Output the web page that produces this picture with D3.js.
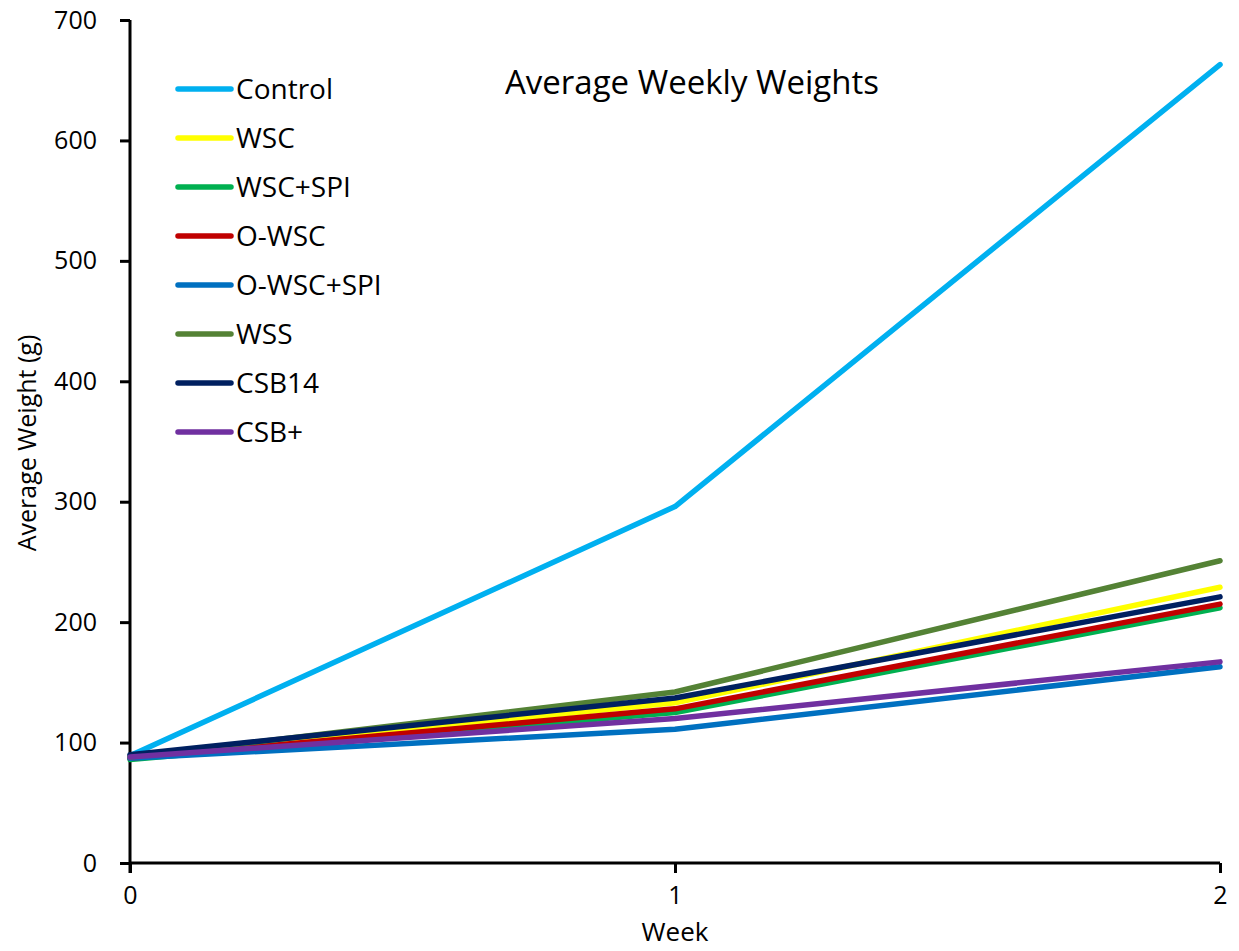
<!DOCTYPE html>
<html><head><meta charset="utf-8">
<script src="https://cdn.jsdelivr.net/npm/d3@7"></script>
<style>body{margin:0;background:#fff}svg{display:block}text{font-family:"Open Sans",sans-serif;fill:#000}</style>
</head><body><svg id="c" width="1239" height="951"></svg>
<script>
const weeks = [0, 1, 2];
const seriesNames = ["Control","WSC","WSC+SPI","O-WSC","O-WSC+SPI","WSS","CSB14","CSB+"];
const seriesColors = ["#00B0F0","#FFFF00","#00B050","#C00000","#0070C0","#548235","#002060","#7030A0"];
const control = [89, 296, 663];
const wsc = [88, 133, 229];
const wscSpi = [86, 125, 212];
const oWsc = [87, 128, 215];
const oWscSpi = [87, 111, 163];
const wss = [88, 142, 251];
const csb14 = [90, 137, 221];
const csbPlus = [88, 120, 167];
const seriesValues = [control, wsc, wscSpi, oWsc, oWscSpi, wss, csb14, csbPlus];
const yTicks = [0,100,200,300,400,500,600,700];
const xTicks = [0,1,2];

const FONT = "'Open Sans',sans-serif";
const svg = d3.select("#c");
const x = d3.scaleLinear().domain([0,2]).range([130,1220]);
const y = d3.scaleLinear().domain([0,700]).range([863,20]);

const ya = svg.append("g").attr("transform","translate(130,0)")
  .call(d3.axisLeft(y).tickValues(yTicks).tickSize(10).tickPadding(23).tickFormat(d3.format("d")));
ya.select(".domain").attr("stroke","#000").attr("stroke-width",3).attr("d","M0,20V873");
ya.selectAll(".tick line").attr("stroke","#000").attr("stroke-width",3);
ya.selectAll(".tick text").attr("font-size",25).attr("font-family",FONT);

const xa = svg.append("g").attr("transform","translate(0,863)")
  .call(d3.axisBottom(x).tickValues(xTicks).tickSize(10).tickPadding(13).tickFormat(d3.format("d")));
xa.select(".domain").attr("stroke","#000").attr("stroke-width",3).attr("d","M130,0H1220");
xa.selectAll(".tick line").attr("stroke","#000").attr("stroke-width",3);
xa.selectAll(".tick text").attr("font-size",25).attr("font-family",FONT);

const line = d3.line().x((d,i)=>x(weeks[i])).y(d=>y(d));
seriesValues.forEach((vals,i)=>{
  svg.append("path").attr("d",line(vals)).attr("fill","none")
    .attr("stroke",seriesColors[i]).attr("stroke-width",5.5)
    .attr("stroke-linecap","round").attr("stroke-linejoin","round");
});

seriesNames.forEach((n,i)=>{
  const yy = 89 + i*49;
  svg.append("line").attr("x1",178).attr("x2",231).attr("y1",yy).attr("y2",yy)
    .attr("stroke",seriesColors[i]).attr("stroke-width",5.5).attr("stroke-linecap","round");
  svg.append("text").attr("x",236).attr("y",yy).attr("dy","0.36em").attr("font-size",28).text(n);
});

svg.append("text").attr("x",692).attr("y",82).attr("dy","0.35em").attr("text-anchor","middle").attr("font-size",33).text("Average Weekly Weights");
svg.append("text").attr("x",675).attr("y",932).attr("dy","0.35em").attr("text-anchor","middle").attr("font-size",26).text("Week");
svg.append("text").attr("transform","translate(27,443) rotate(-90)").attr("dy","0.35em").attr("text-anchor","middle").attr("font-size",25).text("Average Weight (g)");
</script></body></html>
